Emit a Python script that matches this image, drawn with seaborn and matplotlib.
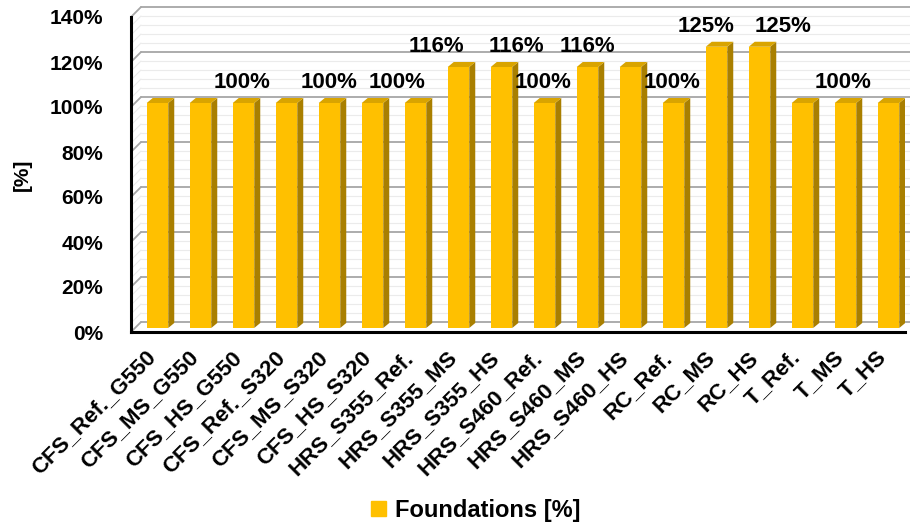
import numpy as np
import pandas as pd
import matplotlib
matplotlib.use("Agg")
import matplotlib.pyplot as plt
import seaborn as sns
from matplotlib.patches import Polygon, Patch
from matplotlib.transforms import ScaledTranslation

# ---------------- data ----------------
categories = [
    "CFS_Ref._G550", "CFS_MS_G550", "CFS_HS_G550",
    "CFS_Ref._S320", "CFS_MS_S320", "CFS_HS_S320",
    "HRS_S355_Ref.", "HRS_S355_MS", "HRS_S355_HS",
    "HRS_S460_Ref.", "HRS_S460_MS", "HRS_S460_HS",
    "RC_Ref.", "RC_MS", "RC_HS",
    "T_Ref.", "T_MS", "T_HS",
]
values = [100, 100, 100, 100, 100, 100, 100, 116, 116,
          100, 116, 116, 100, 125, 125, 100, 100, 100]
# bars that carry a data label (as in the original, not all of them do)
label_bars = [2, 4, 6, 7, 8, 9, 10, 12, 13, 14, 16]
label_nudge_px = [-1, 0, -18, -22, 15, -1, 0, -1, -10, 24, -2]
y_ticks = [0, 20, 40, 60, 80, 100, 120, 140]
series_name = "Foundations [%]"

df = pd.DataFrame({"case": categories, "value": values})

# ---------------- style ----------------
sns.set_style("white")
plt.rcParams["font.family"] = ["Liberation Sans", "DejaVu Sans"]
plt.rcParams["font.weight"] = "bold"
plt.rcParams["text.color"] = "black"
plt.rcParams["axes.labelcolor"] = "black"
plt.rcParams["xtick.color"] = "black"
plt.rcParams["ytick.color"] = "black"

gold = "#FFC000"
gold_side = "#A97F00"
gold_top = "#D9A400"
grid_col = "#A6A6A6"
minor_col = "#EBEBEB"

W, H = 910, 526
fig = plt.figure(figsize=(W / 100, H / 100), dpi=100)
ax_l, ax_r, ax_t, ax_b = 131, 905, 17, 332
ax = fig.add_axes([ax_l / W, 1 - ax_b / H, (ax_r - ax_l) / W, (ax_b - ax_t) / H])
ax.set_xlim(-0.5, len(categories) - 0.5)
ax.set_ylim(0, 140)

# pixel -> data units
px_x = len(categories) / (ax_r - ax_l)
px_y = 140 / (ax_b - ax_t)

# ---------------- back wall + side wall (3D look) ----------------
wall = 10  # px depth of the walls
wall_off = ax.transData + ScaledTranslation(wall / 100, wall / 100, fig.dpi_scale_trans)
x0, x1 = ax.get_xlim()
for y in np.arange(0, 141, 4):
    major = y % 20 == 0
    c = grid_col if major else minor_col
    lw = 1.3 if major else 0.8
    ax.plot([x0, x1], [y, y], transform=wall_off, color=c, lw=lw,
            clip_on=False, zorder=0.3 if not major else 0.5)
    ax.plot([x0, x0 + wall * px_x], [y, y + wall * px_y], color=c, lw=lw,
            clip_on=False, zorder=0.3 if not major else 0.5)

# ---------------- bars ----------------
sns.barplot(data=df, x="case", y="value", color=gold, saturation=1,
            width=0.5, ax=ax, zorder=2)

bar_off = ax.transData + ScaledTranslation(0.05, 0.04, fig.dpi_scale_trans)
dx, dy = 6 * px_x, 5 * px_y
for p in ax.patches:
    bx, bw, bh = p.get_x(), p.get_width(), p.get_height()
    p.set_transform(bar_off)
    p.set_linewidth(0)
    side = Polygon([(bx + bw, 0), (bx + bw + dx, dy), (bx + bw + dx, bh + dy), (bx + bw, bh)],
                   closed=True, facecolor=gold_side, edgecolor="none",
                   transform=bar_off, zorder=2)
    top = Polygon([(bx, bh), (bx + dx, bh + dy), (bx + bw + dx, bh + dy), (bx + bw, bh)],
                  closed=True, facecolor=gold_top, edgecolor="none",
                  transform=bar_off, zorder=2)
    ax.add_patch(side)
    ax.add_patch(top)

# data labels
for i, nudge in zip(label_bars, label_nudge_px):
    ax.annotate(f"{values[i]}%", xy=(i, values[i]),
                xytext=(nudge * 0.72 + 3.6, 17.5), textcoords="offset points",
                ha="center", va="center", fontsize=16, fontweight="bold",
                annotation_clip=False)

# ---------------- axes ----------------
for s in ["top", "right"]:
    ax.spines[s].set_visible(False)
for s in ["left", "bottom"]:
    ax.spines[s].set_color("black")
    ax.spines[s].set_linewidth(2.2)
    ax.spines[s].set_zorder(3)

ax.set_yticks(y_ticks)
ax.set_yticklabels([f"{t}%" for t in y_ticks])
ax.tick_params(axis="y", length=0, pad=20, labelsize=15)

ax.set_xticks(range(len(categories)))
ax.set_xticklabels(categories, rotation=45, ha="right", va="center",
                   rotation_mode="anchor")
ax.tick_params(axis="x", length=0, pad=16, labelsize=16)

ax.set_xlabel("")
ax.set_ylabel("[%]", fontsize=15, fontweight="bold")
ax.yaxis.set_label_coords(-0.128, 0.5)

fig.legend(handles=[Patch(color=gold, label=series_name)],
           loc="center", bbox_to_anchor=(476 / W, 1 - 510 / H),
           frameon=False, fontsize=17, handlelength=0.6, handleheight=0.6,
           handletextpad=0.4)

fig.savefig("out.png", dpi=100)
